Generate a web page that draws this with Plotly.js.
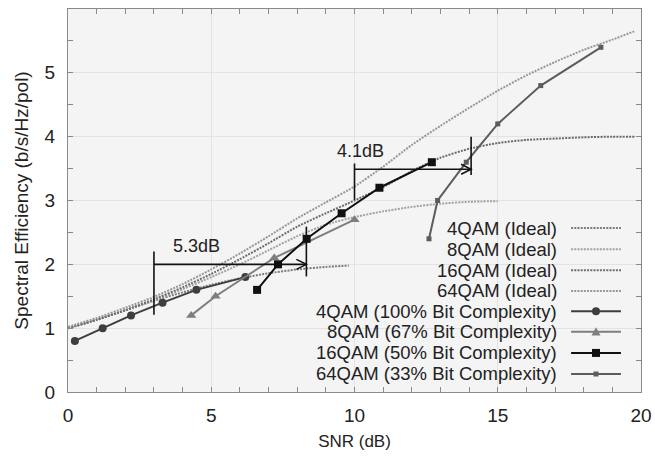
<!DOCTYPE html>
<html>
<head>
<meta charset="utf-8">
<script src="https://cdn.plot.ly/plotly-3.0.1.min.js"></script>
<style>html,body{margin:0;padding:0;background:#fff;}#chart{width:655px;height:458px;}</style>
</head>
<body>
<div id="chart"></div>
<script>
// ---------- data ----------
const idealX4  = [0, 1, 2, 3, 4, 5, 6, 7, 8, 9, 9.8];
const idealY4  = [1.0, 1.13, 1.28, 1.43, 1.56, 1.68, 1.78, 1.86, 1.92, 1.96, 1.98];
const idealX8  = [0, 1, 2, 3, 4, 5, 6, 7, 8, 9, 10, 11, 12, 13, 14, 15];
const idealY8  = [1.0, 1.13, 1.28, 1.44, 1.61, 1.8, 2.0, 2.22, 2.44, 2.62, 2.74, 2.83, 2.9, 2.95, 2.98, 2.99];
const idealX16 = [0, 1, 2, 3, 4, 5, 6, 7, 8, 9, 10, 11, 12, 13, 14, 15, 16, 17, 18, 19, 19.8];
const idealY16 = [1.0, 1.13, 1.28, 1.45, 1.64, 1.85, 2.08, 2.33, 2.59, 2.8, 3.0, 3.21, 3.46, 3.67, 3.81, 3.9, 3.95, 3.97, 3.99, 4.0, 4.0];
const idealX64 = [0, 1, 2, 3, 4, 5, 6, 7, 8, 9, 10, 11, 12, 13, 14, 15, 16, 17, 18, 19, 19.76];
const idealY64 = [1.02, 1.16, 1.32, 1.49, 1.69, 1.92, 2.17, 2.44, 2.72, 2.97, 3.22, 3.53, 3.87, 4.17, 4.45, 4.72, 4.96, 5.17, 5.36, 5.52, 5.65];

const x4QAM  = [0.24, 1.21, 2.2, 3.3, 4.48, 6.19];
const y4QAM  = [0.8, 1.0, 1.2, 1.4, 1.6, 1.8];
const x8QAM  = [4.3, 5.15, 7.2, 10.0];
const y8QAM  = [1.2, 1.5, 2.1, 2.7];
const x16QAM = [6.6, 7.33, 8.33, 9.55, 10.87, 12.7];
const y16QAM = [1.6, 2.0, 2.4, 2.8, 3.2, 3.6];
const x64QAM = [12.6, 12.9, 13.9, 15.0, 16.5, 18.6];
const y64QAM = [2.4, 3.0, 3.6, 4.2, 4.8, 5.4];

const seriesNames = [
  '4QAM (Ideal)', '8QAM (Ideal)', '16QAM (Ideal)', '64QAM (Ideal)',
  '4QAM (100% Bit Complexity)', '8QAM (67% Bit Complexity)',
  '16QAM (50% Bit Complexity)', '64QAM (33% Bit Complexity)'
];
const xTickVals = [0, 5, 10, 15, 20];
const yTickVals = [0, 1, 2, 3, 4, 5, 6];

// gap annotations
const gapA = {x0: 3.0, x1: 8.32, y: 2.0, left: [1.21, 2.2], right: [1.81, 2.59], text: '5.3dB', tx: 4.48, ty: 2.28};
const gapB = {x0: 10.0, x1: 14.07, y: 3.49, left: [3.01, 3.58], right: [3.4, 4.0], text: '4.1dB', tx: 10.2, ty: 3.77};

// ---------- styles ----------
const FONT = 'Liberation Sans, Arial, Helvetica, sans-serif';
const DOT = '2px,1.2px';
const styles = [
  {color: '#7c7c7c', dash: DOT, width: 2},
  {color: '#a2a2a2', dash: DOT, width: 2},
  {color: '#6c6c6c', dash: DOT, width: 2},
  {color: '#979797', dash: DOT, width: 2},
  {color: '#3e3e3e', width: 2, symbol: 'circle', size: 8},
  {color: '#7e7e7e', width: 2, symbol: 'triangle-up', size: 9},
  {color: '#111111', width: 2, symbol: 'square', size: 8},
  {color: '#5c5c5c', width: 2, symbol: 'square', size: 5}
];

const xs = [idealX4, idealX8, idealX16, idealX64, x4QAM, x8QAM, x16QAM, x64QAM];
const ys = [idealY4, idealY8, idealY16, idealY64, y4QAM, y8QAM, y16QAM, y64QAM];

const traces = xs.map((x, i) => {
  const s = styles[i];
  const t = {
    x: x, y: ys[i], name: seriesNames[i], type: 'scatter', showlegend: false,
    mode: s.symbol ? 'lines+markers' : 'lines',
    line: {color: s.color, width: s.width, dash: s.dash || 'solid', shape: s.symbol ? 'linear' : 'spline', smoothing: 0.6},
    hoverinfo: 'skip'
  };
  if (s.symbol) t.marker = {symbol: s.symbol, size: s.size, color: s.color};
  return t;
});

// ---------- shapes & annotations ----------
const shapes = [];
const annotations = [];
const BLACK = '#111111';
[gapA, gapB].forEach(g => {
  shapes.push({type: 'line', xref: 'x', yref: 'y', x0: g.x0, x1: g.x0, y0: g.left[0], y1: g.left[1], line: {color: BLACK, width: 1.6}});
  shapes.push({type: 'line', xref: 'x', yref: 'y', x0: g.x1, x1: g.x1, y0: g.right[0], y1: g.right[1], line: {color: BLACK, width: 1.6}});
  shapes.push({type: 'line', xref: 'x', yref: 'y', x0: g.x0, x1: g.x1, y0: g.y, y1: g.y, line: {color: BLACK, width: 1.6}});
  shapes.push({type: 'path', xref: 'x', yref: 'y', xsizemode: 'pixel', ysizemode: 'pixel', xanchor: g.x1, yanchor: g.y,
               path: 'M-10,-5 L0,0 L-10,5', line: {color: BLACK, width: 1.5}});
  annotations.push({xref: 'x', yref: 'y', x: g.tx, y: g.ty, text: g.text, showarrow: false,
                    font: {family: FONT, size: 18, color: '#222'}});
});

// legend (text left of the sample, right-aligned)
const legTextX = 0.857, legS0 = 0.878, legS1 = 0.965, legMid = 0.9215;
const legRowsY = [0.428, 0.373, 0.318, 0.264, 0.211, 0.157, 0.102, 0.047];
seriesNames.forEach((n, i) => {
  const s = styles[i], yy = legRowsY[i];
  annotations.push({xref: 'paper', yref: 'paper', x: legTextX, y: yy, xanchor: 'right', yanchor: 'middle',
                    text: n, showarrow: false, font: {family: FONT, size: 18.5, color: '#222'}});
  shapes.push({type: 'line', xref: 'paper', yref: 'paper', x0: legS0, x1: legS1, y0: yy, y1: yy,
               line: {color: s.color, width: s.width, dash: s.dash || 'solid'}});
  if (s.symbol) {
    const h = s.size / 2;
    const base = {xref: 'paper', yref: 'paper', xsizemode: 'pixel', ysizemode: 'pixel', xanchor: legMid, yanchor: yy,
                  fillcolor: s.color, line: {color: s.color, width: 0}};
    if (s.symbol === 'circle') shapes.push(Object.assign({type: 'circle', x0: -h, x1: h, y0: -h, y1: h}, base));
    else if (s.symbol === 'square') shapes.push(Object.assign({type: 'rect', x0: -h, x1: h, y0: -h, y1: h}, base));
    else shapes.push(Object.assign({type: 'path', path: `M${-h},${-h*0.8} L${h},${-h*0.8} L0,${h} Z`}, base));
  }
});

const axisCommon = {
  showline: true, linecolor: '#8a8a8a', linewidth: 1, mirror: 'ticks',
  ticks: 'inside', ticklen: 5, tickcolor: '#8a8a8a', tickwidth: 1,
  showgrid: true, gridcolor: '#e3e3e3', gridwidth: 1, zeroline: false,
  tickfont: {family: FONT, size: 19, color: '#222'}
};

const layout = {
  width: 655, height: 458,
  margin: {l: 68, r: 14, t: 9, b: 66},
  paper_bgcolor: '#ffffff', plot_bgcolor: '#f4f4f4',
  showlegend: false,
  xaxis: Object.assign({}, axisCommon, {
    range: [0, 20], tickmode: 'array', tickvals: xTickVals, ticktext: xTickVals.map(String),
    minor: {dtick: 1, ticks: 'inside', ticklen: 5, tickcolor: '#8a8a8a', showgrid: false},
    ticklabelstandoff: 6,
    title: {text: 'SNR (dB)', font: {family: FONT, size: 17, color: '#222'}, standoff: 10}
  }),
  yaxis: Object.assign({}, axisCommon, {
    range: [0, 6], tickmode: 'array', tickvals: yTickVals, ticktext: yTickVals.map(String),
    minor: {dtick: 0.5, ticks: 'inside', ticklen: 5, tickcolor: '#8a8a8a', showgrid: false},
    ticklabelstandoff: 8,
    title: {text: 'Spectral Efficiency (b/s/Hz/pol)', font: {family: FONT, size: 19, color: '#222'}, standoff: 10}
  }),
  shapes: shapes,
  annotations: annotations
};

Plotly.newPlot('chart', traces, layout, {displayModeBar: false, staticPlot: true});
</script>
</body>
</html>
